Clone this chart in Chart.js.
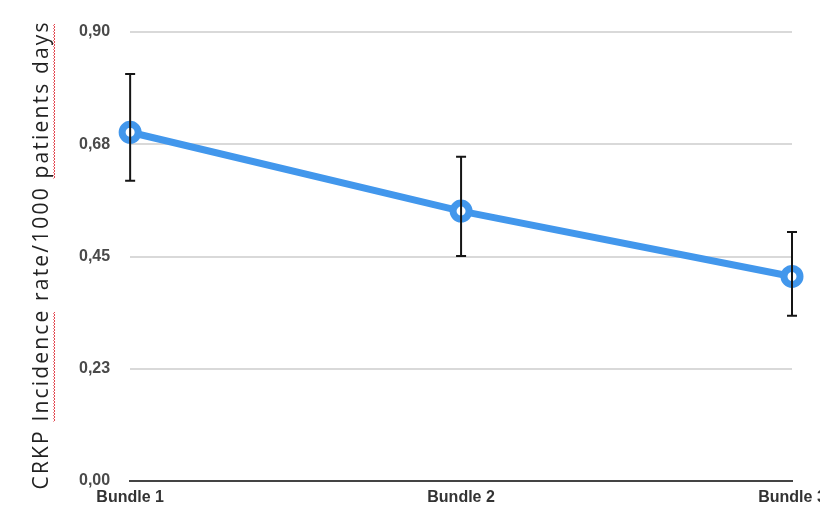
<!DOCTYPE html>
<html>
<head>
<meta charset="utf-8">
<script src="https://cdn.jsdelivr.net/npm/chart.js@4"></script>
<style>
  html, body { margin: 0; padding: 0; background: #fff; overflow: hidden; }
  #wrap { width: 820px; height: 508px; position: relative; }
</style>
</head>
<body>
<div id="wrap"><canvas id="chartIncidencia"></canvas></div>
<script>
const categorias = ['Bundle 1', 'Bundle 2', 'Bundle 3'];
const tasas = [0.699, 0.541, 0.410];
const errorAlto = [0.816, 0.650, 0.499];
const errorBajo = [0.602, 0.451, 0.331];
const ticksY = [0, 0.225, 0.45, 0.675, 0.9];
const tituloY = 'CRKP Incidence rate/1000 patients days';
const palabrasSubrayadas = ['Incidence', 'patients days'];

const azul = '#4297ec';

// barras de error dibujadas con las escalas del grafico
const errorBars = {
  id: 'errorBars',
  afterDatasetsDraw(chart) {
    const ctx = chart.ctx;
    const x = chart.scales.x, y = chart.scales.y;
    ctx.save();
    ctx.strokeStyle = '#151515';
    ctx.lineWidth = 2;
    categorias.forEach((c, i) => {
      const px = x.getPixelForValue(i);
      const top = y.getPixelForValue(errorAlto[i]);
      const bot = y.getPixelForValue(errorBajo[i]);
      ctx.beginPath();
      ctx.moveTo(px, top); ctx.lineTo(px, bot);
      ctx.moveTo(px - 5, top); ctx.lineTo(px + 5, top);
      ctx.moveTo(px - 5, bot); ctx.lineTo(px + 5, bot);
      ctx.stroke();
    });
    ctx.restore();
  }
};

// titulo del eje Y con espaciado y subrayado rojo del corrector
const tituloEje = {
  id: 'tituloEje',
  afterDraw(chart) {
    const ctx = chart.ctx;
    const largo = 467, cx = 48, cy = 256;
    ctx.save();
    ctx.font = '21px "Open Sans"';
    const n = tituloY.length - 1;
    const natural = ctx.measureText(tituloY).width;
    let esp = (largo - natural) / n;
    if (!('letterSpacing' in ctx)) esp = 0;
    const medir = s => ctx.measureText(s).width + esp * s.length;
    ctx.translate(cx, cy);
    ctx.rotate(-Math.PI / 2);
    if (esp) ctx.letterSpacing = esp + 'px';
    ctx.fillStyle = '#222';
    ctx.textAlign = 'left';
    ctx.textBaseline = 'alphabetic';
    ctx.fillText(tituloY, -largo / 2, 0);
    ctx.letterSpacing = '0px';
    ctx.strokeStyle = '#e2424b';
    ctx.lineWidth = 1;
    palabrasSubrayadas.forEach(p => {
      const idx = tituloY.indexOf(p);
      const a = -largo / 2 + medir(tituloY.slice(0, idx));
      const b = a + medir(p) - esp;
      ctx.beginPath();
      let k = 0;
      for (let u = a; u <= b; u += 1.5) {
        const v = 5.5 + (k % 2 ? 1.5 : 0);
        if (k === 0) ctx.moveTo(u, v); else ctx.lineTo(u, v);
        k++;
      }
      ctx.stroke();
    });
    ctx.restore();
  }
};

new Chart(document.getElementById('chartIncidencia'), {
  type: 'line',
  data: {
    labels: categorias,
    datasets: [{
      data: tasas,
      borderColor: azul,
      borderWidth: 7,
      pointRadius: 8,
      pointBorderWidth: 7,
      pointBackgroundColor: '#fff',
      pointBorderColor: azul,
      tension: 0,
      clip: false
    }]
  },
  options: {
    responsive: true,
    maintainAspectRatio: false,
    animation: false,
    layout: { padding: { top: 32, right: 28, left: 59, bottom: 0 } },
    plugins: { legend: { display: false }, tooltip: { enabled: false } },
    scales: {
      x: {
        offset: false,
        afterFit: s => { s.paddingLeft = 0; s.paddingRight = 0; s.height = 27; },
        grid: { display: false, drawTicks: false },
        border: { display: true, color: '#444', width: 2 },
        ticks: { color: '#333', padding: 7, maxRotation: 0, font: { family: 'Liberation Sans', size: 16, weight: 'bold' } }
      },
      y: {
        min: 0,
        max: 0.9,
        afterBuildTicks: s => { s.ticks = ticksY.map(v => ({ value: v })); },
        afterFit: s => { s.paddingTop = 0; s.paddingBottom = 0; },
        grid: { color: '#d9d9d9', lineWidth: 2, drawTicks: false },
        border: { display: false },
        ticks: {
          color: '#4a4a4a',
          padding: 20,
          font: { family: 'Liberation Sans', size: 16, weight: 'bold' },
          callback: v => v.toFixed(2).replace('.', ',')
        }
      }
    }
  },
  plugins: [errorBars, tituloEje]
});
</script>
</body>
</html>
